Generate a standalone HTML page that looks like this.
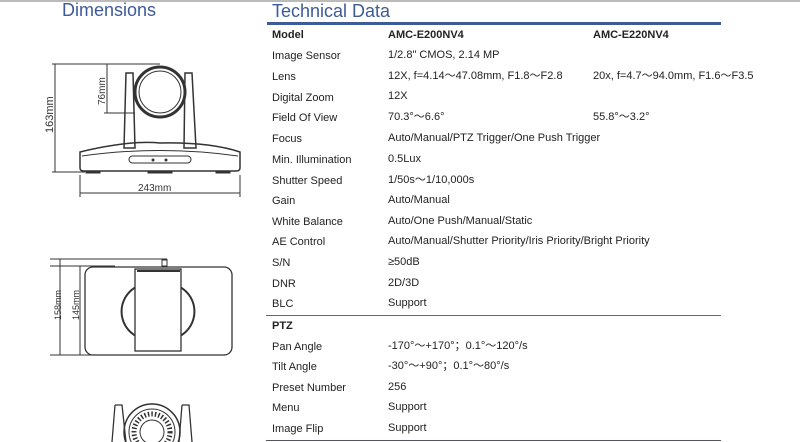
<!DOCTYPE html>
<html><head><meta charset="utf-8"><style>
body{margin:0;width:800px;height:442px;background:#fff;position:relative;overflow:hidden;font-family:"Liberation Sans",Arial,sans-serif;}
.t{position:absolute;font-size:11px;line-height:13px;height:13px;color:#222;white-space:nowrap;}
.h{position:absolute;font-size:18px;line-height:20px;color:#3d5b96;}
</style></head><body>
<div style="position:absolute;left:0;top:0;width:800px;height:2px;background:#bbb"></div>
<div class="h" style="left:62px;top:0px">Dimensions</div>
<div class="h" style="left:272px;top:1px">Technical Data</div>
<div style="position:absolute;left:267px;top:22px;width:454px;height:3px;background:#3d5b96"></div>
<div style="position:absolute;left:266px;top:315px;width:455px;height:1px;background:#667"></div>
<div style="position:absolute;left:266px;top:440px;width:455px;height:1px;background:#556"></div>
<div class="t" style="left:272px;top:29px;font-weight:bold">Model</div>
<div class="t" style="left:388px;top:29px;font-weight:bold">AMC-E200NV4</div>
<div class="t" style="left:593px;top:29px;font-weight:bold">AMC-E220NV4</div>
<div class="t" style="left:272px;top:50px">Image Sensor</div><div class="t" style="left:388px;top:49px">1/2.8" CMOS, 2.14 MP</div>
<div class="t" style="left:272px;top:71px">Lens</div><div class="t" style="left:388px;top:70px">12X, f=4.14～47.08mm, F1.8～F2.8</div><div class="t" style="left:593px;top:70px">20x, f=4.7～94.0mm, F1.6～F3.5</div>
<div class="t" style="left:272px;top:92px">Digital Zoom</div><div class="t" style="left:388px;top:90px">12X</div>
<div class="t" style="left:272px;top:112px">Field Of View</div><div class="t" style="left:388px;top:111px">70.3°～6.6°</div><div class="t" style="left:593px;top:111px">55.8°～3.2°</div>
<div class="t" style="left:272px;top:133px">Focus</div><div class="t" style="left:388px;top:132px">Auto/Manual/PTZ Trigger/One Push Trigger</div>
<div class="t" style="left:272px;top:154px">Min. Illumination</div><div class="t" style="left:388px;top:153px">0.5Lux</div>
<div class="t" style="left:272px;top:175px">Shutter Speed</div><div class="t" style="left:388px;top:174px">1/50s～1/10,000s</div>
<div class="t" style="left:272px;top:195px">Gain</div><div class="t" style="left:388px;top:194px">Auto/Manual</div>
<div class="t" style="left:272px;top:216px">White Balance</div><div class="t" style="left:388px;top:215px">Auto/One Push/Manual/Static</div>
<div class="t" style="left:272px;top:236px">AE Control</div><div class="t" style="left:388px;top:235px">Auto/Manual/Shutter Priority/Iris Priority/Bright Priority</div>
<div class="t" style="left:272px;top:257px">S/N</div><div class="t" style="left:388px;top:256px">≥50dB</div>
<div class="t" style="left:272px;top:278px">DNR</div><div class="t" style="left:388px;top:277px">2D/3D</div>
<div class="t" style="left:272px;top:298px">BLC</div><div class="t" style="left:388px;top:297px">Support</div>
<div class="t" style="left:272px;top:320px;font-weight:bold">PTZ</div>
<div class="t" style="left:272px;top:341px">Pan Angle</div><div class="t" style="left:388px;top:340px">-170°～+170°；0.1°～120°/s</div>
<div class="t" style="left:272px;top:361px">Tilt Angle</div><div class="t" style="left:388px;top:360px">-30°～+90°；0.1°～80°/s</div>
<div class="t" style="left:272px;top:382px">Preset Number</div><div class="t" style="left:388px;top:381px">256</div>
<div class="t" style="left:272px;top:402px">Menu</div><div class="t" style="left:388px;top:401px">Support</div>
<div class="t" style="left:272px;top:423px">Image Flip</div><div class="t" style="left:388px;top:422px">Support</div>
<svg width="260" height="442" style="position:absolute;left:0;top:0" fill="none" stroke="#333" stroke-width="1">
<line x1="52" y1="64" x2="160" y2="64"/><line x1="55" y1="64" x2="55" y2="172"/><line x1="52" y1="172" x2="85" y2="172"/>
<line x1="107" y1="64" x2="107" y2="113"/><line x1="104" y1="113" x2="135" y2="113"/>
<text x="0" y="0" transform="translate(53,133) rotate(-90)" font-size="11" fill="#333" stroke="none" font-family="Liberation Sans">163mm</text>
<text x="0" y="0" transform="translate(105,105) rotate(-90)" font-size="10" fill="#333" stroke="none" font-family="Liberation Sans">76mm</text>
<path d="M126 73 L133 73 L135 148 L124 148 Z" stroke-width="1.5"/>
<path d="M185 73 L192 73 L196 148 L184 148 Z" stroke-width="1.5"/>
<circle cx="160" cy="92" r="25" stroke-width="3"/><circle cx="160" cy="92" r="21"/>
<path d="M80 152 Q130 140 160 143 Q210 142 240 152 L240 168 Q240 171 236 171 L84 171 Q80 171 80 168 Z" stroke-width="1.5"/>
<path d="M82 156 Q160 145 238 156"/>
<rect x="129" y="156" width="62" height="7" rx="3.5"/>
<circle cx="153" cy="160" r="1" fill="#333"/><circle cx="166" cy="160" r="1" fill="#333"/>
<rect x="86" y="171" width="14" height="2" fill="#333"/><rect x="148" y="171" width="24" height="2" fill="#333"/><rect x="216" y="171" width="14" height="2" fill="#333"/>
<line x1="80" y1="175" x2="80" y2="197"/><line x1="240" y1="175" x2="240" y2="197"/><line x1="80" y1="193" x2="240" y2="193"/>
<text x="138" y="191" font-size="10" fill="#333" stroke="none" font-family="Liberation Sans">243mm</text>
<line x1="50" y1="259" x2="167" y2="259"/><line x1="167" y1="259" x2="167" y2="266"/><rect x="162" y="260" width="5" height="6"/>
<line x1="50" y1="266" x2="115" y2="266"/><line x1="50" y1="355" x2="140" y2="355"/>
<line x1="60" y1="259" x2="60" y2="355"/><line x1="80" y1="266" x2="80" y2="355"/>
<text x="0" y="0" transform="translate(61,320) rotate(-90)" font-size="9" fill="#333" stroke="none" font-family="Liberation Sans">158mm</text>
<text x="0" y="0" transform="translate(79,320) rotate(-90)" font-size="9" fill="#333" stroke="none" font-family="Liberation Sans">145mm</text>
<rect x="85" y="267" width="147" height="88" rx="8" stroke-width="1.3"/>
<path d="M136 287 A28 28 0 0 0 136 336" stroke-width="2"/><path d="M180 287 A28 28 0 0 1 180 336" stroke-width="2"/>
<rect x="135" y="269" width="46" height="82" fill="#fff" stroke-width="1.3"/>
<line x1="137" y1="271" x2="180" y2="271" stroke-width="2"/>
<circle cx="152" cy="432" r="28" stroke-width="1.5"/><circle cx="152" cy="432" r="23"/><circle cx="152" cy="432" r="12"/>
<circle cx="152" cy="432" r="18" stroke-width="5" stroke-dasharray="1.5 2"/>
<path d="M115 405 L122 405 L126 442 M112 442 L115 405" stroke-width="1.3"/>
<path d="M182 405 L189 405 L192 442 M179 442 L182 405" stroke-width="1.3"/>
</svg>
</body></html>
